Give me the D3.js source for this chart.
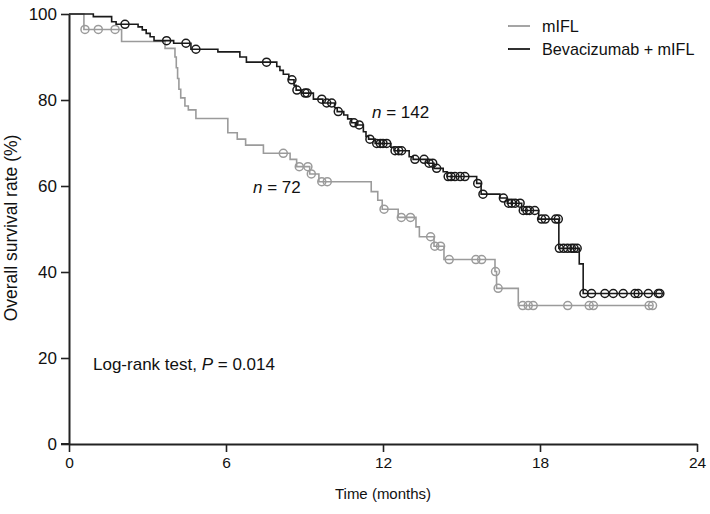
<!DOCTYPE html>
<html><head><meta charset="utf-8">
<script src="https://cdn.jsdelivr.net/npm/d3@7"></script>
<style>
html,body{margin:0;padding:0;background:#fff;}
text{font-family:"Liberation Sans",Arial,sans-serif;fill:#111;}
</style></head>
<body>
<svg id="chart" width="710" height="514"></svg>
<script>
// ---- data ----
const xTicks = [0, 6, 12, 18, 24];
const yTicks = [0, 20, 40, 60, 80, 100];
const seriesNames = ["mIFL", "Bevacizumab + mIFL"];

// mIFL (grey) event times and survival after each event
const mIFLTimes = [0, 0.57, 2.01, 3.67, 4.05, 4.10, 4.15, 4.20, 4.27, 4.43, 4.56, 4.85, 6.07, 6.43, 6.75, 7.43, 8.45, 8.70, 9.20, 9.55, 11.55, 11.80, 11.97, 12.58, 13.26, 13.39, 13.95, 14.33, 16.28, 16.34, 17.17];
const mIFLSurv  = [100, 96.4, 93.6, 92.0, 90.0, 87.5, 85.0, 82.5, 80.5, 78.6, 77.7, 75.7, 72.4, 70.9, 69.5, 67.6, 66.2, 64.5, 62.8, 61.0, 58.7, 56.7, 54.6, 52.7, 50.5, 48.2, 46.0, 42.9, 40.1, 36.2, 32.2];
const mIFLCensor = [0.61, 1.12, 1.76, 8.19, 8.80, 9.13, 9.26, 9.66, 9.87, 12.04, 12.70, 13.05, 13.82, 13.98, 14.20, 14.53, 15.55, 15.77, 16.30, 16.40, 17.34, 17.55, 17.74, 19.06, 19.88, 20.04, 22.17, 22.30];
const mIFLEnd = 22.30;

// Bevacizumab + mIFL (black)
const bevTimes = [0, 0.93, 1.63, 1.80, 2.64, 2.80, 2.95, 3.10, 3.25, 4.00, 4.66, 5.69, 6.53, 6.78, 7.94, 8.06, 8.19, 8.40, 8.60, 8.68, 8.90, 9.34, 9.70, 10.15, 10.25, 10.50, 10.65, 10.80, 11.00, 11.25, 11.35, 11.45, 11.70, 12.30, 12.42, 13.00, 13.15, 13.70, 13.95, 14.30, 14.45, 15.58, 15.75, 16.47, 16.75, 17.30, 17.95, 18.72, 19.50, 19.65];
const bevSurv  = [100, 99.4, 98.2, 97.6, 97.0, 96.3, 95.5, 94.7, 93.8, 93.2, 91.8, 91.2, 90.0, 88.8, 87.8, 86.9, 86.0, 84.7, 83.4, 82.3, 81.6, 80.2, 79.3, 78.2, 77.3, 76.5, 75.6, 74.7, 74.2, 72.6, 71.5, 70.9, 69.9, 69.0, 68.2, 66.8, 66.2, 65.3, 64.1, 63.3, 62.2, 60.6, 58.1, 57.2, 56.0, 54.3, 52.3, 45.5, 41.9, 35.0];
const bevCensor = [2.14, 3.73, 4.47, 4.85, 7.55, 8.52, 8.71, 9.02, 9.10, 9.66, 9.85, 10.04, 10.29, 10.89, 11.09, 11.50, 11.76, 11.90, 12.00, 12.14, 12.46, 12.60, 12.71, 13.22, 13.57, 13.76, 13.90, 14.05, 14.49, 14.60, 14.75, 14.95, 15.13, 15.62, 15.82, 16.60, 16.80, 16.92, 17.05, 17.24, 17.36, 17.50, 17.60, 17.80, 18.06, 18.20, 18.60, 18.70, 18.74, 18.90, 19.05, 19.20, 19.30, 19.42, 19.68, 19.97, 20.48, 20.80, 21.18, 21.63, 21.75, 22.14, 22.52, 22.58];
const bevEnd = 22.65;

const seriesColors = ["#9b9b9b", "#1a1a1a"];

// ---- layout ----
const svg = d3.select("#chart");
const x = d3.scaleLinear().domain([0, 24]).range([69, 697]);
const y = d3.scaleLinear().domain([0, 100]).range([444, 14]);

const series = [
  {times: mIFLTimes, surv: mIFLSurv, censor: mIFLCensor, end: mIFLEnd, color: seriesColors[0]},
  {times: bevTimes, surv: bevSurv, censor: bevCensor, end: bevEnd, color: seriesColors[1]}
];

function survAt(s, t) {
  let v = s.surv[0];
  for (let i = 0; i < s.times.length; i++) if (s.times[i] <= t) v = s.surv[i];
  return v;
}

const line = d3.line().x(d => x(d[0])).y(d => y(d[1])).curve(d3.curveStepAfter);

series.forEach(s => {
  const pts = s.times.map((t, i) => [t, s.surv[i]]);
  pts.push([s.end, s.surv[s.surv.length - 1]]);
  svg.append("path").attr("d", line(pts))
    .attr("fill", "none").attr("stroke", s.color).attr("stroke-width", 1.6);
  svg.append("g").selectAll("circle").data(s.censor).join("circle")
    .attr("cx", d => x(d)).attr("cy", d => y(survAt(s, d)))
    .attr("r", 4).attr("fill", "none").attr("stroke", s.color).attr("stroke-width", 1.5);
});

// ---- axes ----
const xAxis = d3.axisBottom(x).tickValues(xTicks).tickSize(8).tickPadding(5).tickSizeOuter(0);
const yAxis = d3.axisLeft(y).tickValues(yTicks).tickSize(8).tickPadding(4).tickSizeOuter(0);

const gx = svg.append("g").attr("transform", "translate(0,444)").call(xAxis);
gx.selectAll("text").style("font-size", "15.5px").attr("fill", "#111");
const gy = svg.append("g").attr("transform", "translate(69,0)").call(yAxis);
gy.selectAll("text").style("font-size", "17px").attr("fill", "#111");
[gx, gy].forEach(g => {
  g.select(".domain").attr("stroke", "#222").attr("stroke-width", 2);
  g.selectAll(".tick line").attr("stroke", "#222").attr("stroke-width", 1.6);
});
// extend x axis leftwards to y tick at 0
svg.append("line").attr("x1", 61).attr("x2", 69).attr("y1", 444).attr("y2", 444)
  .attr("stroke", "#222").attr("stroke-width", 2);

svg.append("text").attr("x", 383).attr("y", 499).attr("text-anchor", "middle")
  .style("font-size", "15px").text("Time (months)");
svg.append("text").attr("transform", "translate(17,228) rotate(-90)").attr("text-anchor", "middle")
  .style("font-size", "17.5px").text("Overall survival rate (%)");

// annotations
const lr = svg.append("text").attr("x", 93).attr("y", 370).style("font-size", "17px");
lr.append("tspan").text("Log-rank test, ");
lr.append("tspan").style("font-style", "italic").text("P");
lr.append("tspan").text(" = 0.014");

const n72 = svg.append("text").attr("x", 253).attr("y", 193).style("font-size", "17px");
n72.append("tspan").style("font-style", "italic").text("n");
n72.append("tspan").text(" = 72");
const n142 = svg.append("text").attr("x", 372).attr("y", 118).style("font-size", "17px");
n142.append("tspan").style("font-style", "italic").text("n");
n142.append("tspan").text(" = 142");

// legend
const leg = svg.append("g");
seriesNames.forEach((name, i) => {
  const cy = 26 + i * 23;
  leg.append("line").attr("x1", 508).attr("x2", 530).attr("y1", cy).attr("y2", cy)
    .attr("stroke", seriesColors[i]).attr("stroke-width", 1.8);
  leg.append("text").attr("x", 542).attr("y", cy + 5.5).style("font-size", "16.2px").text(name);
});
</script>
</body></html>
